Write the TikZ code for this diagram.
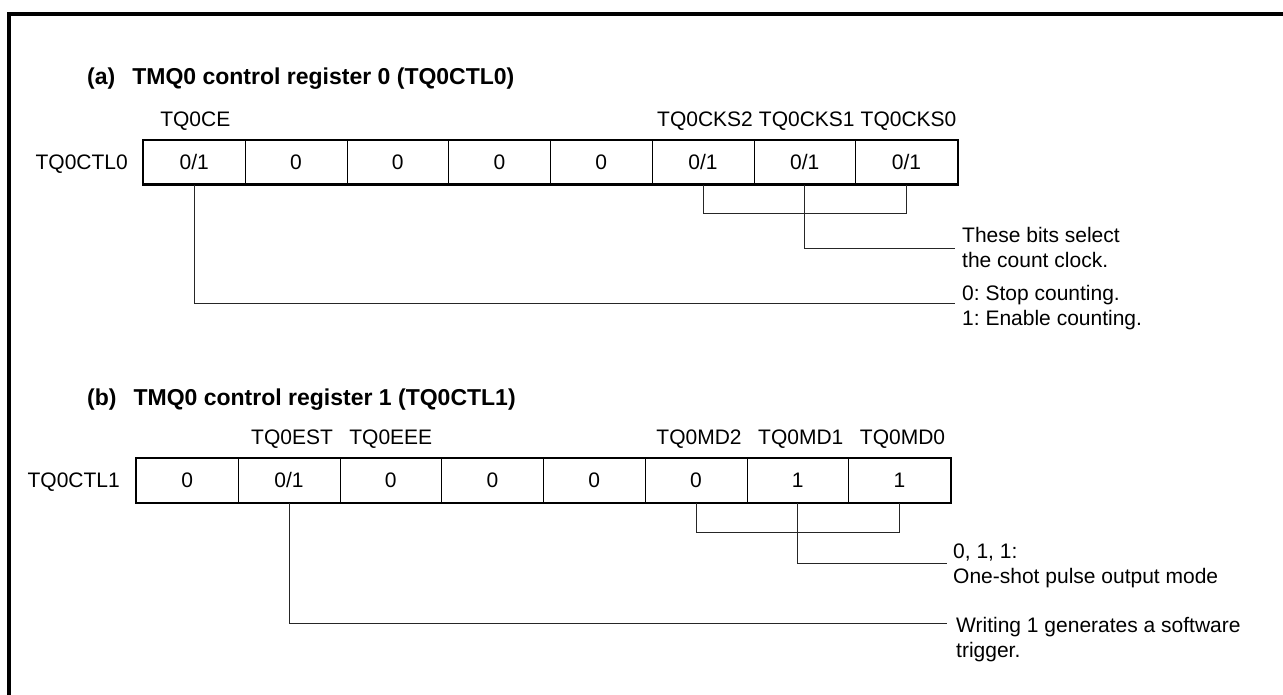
\documentclass[tikz,border=0pt]{standalone}
\usepackage{fontspec}
\setmainfont{Liberation Sans}
\frenchspacing
\begin{document}
\begin{tikzpicture}[x=1pt,y=-1pt,
  cell/.style={draw, line width=0.8pt, minimum width=101.75pt, minimum height=44pt,
    inner sep=0pt, text height=15pt, text depth=0pt, font=\fontsize{21}{25}\selectfont},
  lbl/.style={font=\fontsize{21}{25}\selectfont, inner sep=0pt, anchor=base},
  note/.style={font=\fontsize{21}{25}\selectfont, inner sep=0pt, anchor=base west},
  ttl/.style={font=\fontsize{23}{28}\selectfont\bfseries, inner sep=0pt, anchor=base west},
  wire/.style={line width=1pt, draw=black!85},
  regframe/.style={line width=2.6pt, line join=miter}]
\useasboundingbox (0,0) rectangle (1283,695);
\draw[line width=3.6pt, line join=miter] (9,700) -- (9,14) -- (1290,14);

% ---------------- (a) ----------------
\node[ttl] (ta) at (87,85) {(a)\hskip 17pt TMQ0 control register 0 (TQ0CTL0)};
\foreach \v [count=\i] in {0/1,0,0,0,0,0/1,0/1,0/1}
  \node[cell, anchor=north west] (a\i) at ({143+(\i-1)*101.75},140) {\v};
\draw[regframe] (a1.north west) rectangle (a8.south east);
\node[lbl, anchor=base east] (ra) at ([xshift=-15pt,yshift=-7.5pt]a1.west) {TQ0CTL0};
\node[lbl] (la1) at ([xshift=1pt,yshift=13.5pt]a1.north) {TQ0CE};
\node[lbl] (la6) at ([xshift=2pt,yshift=13.5pt]a6.north) {TQ0CKS2};
\node[lbl] (la7) at ([xshift=2pt,yshift=13.5pt]a7.north) {TQ0CKS1};
\node[lbl] (la8) at ([xshift=2pt,yshift=13.5pt]a8.north) {TQ0CKS0};

\coordinate (ca1) at (955,249);
\coordinate (ca2) at (955,303);
\draw[wire] (a6.south) -- ++(0,29) -| (a8.south);
\draw[wire] (a7.south) |- (ca1);
\draw[wire] (a1.south) |- (ca2);
\node[note] (na1) at (962,243) {These bits select};
\node[note] (na2) at (962,268) {the count clock.};
\node[note] (na3) at (962,300) {0: Stop counting.};
\node[note] (na4) at (962,325) {1: Enable counting.};

% ---------------- (b) ----------------
\node[ttl] (tb) at (87,405) {(b)\hskip 17pt TMQ0 control register 1 (TQ0CTL1)};
\foreach \v [count=\i] in {0,0/1,0,0,0,0,1,1}
  \node[cell, anchor=north west] (b\i) at ({136+(\i-1)*101.75},458) {\v};
\draw[regframe] (b1.north west) rectangle (b8.south east);
\node[lbl, anchor=base east] (rb) at ([xshift=-16pt,yshift=-7.5pt]b1.west) {TQ0CTL1};
\node[lbl] (lb2) at ([xshift=3pt,yshift=13.5pt]b2.north) {TQ0EST};
\node[lbl] (lb3) at ([xshift=0pt,yshift=13.5pt]b3.north) {TQ0EEE};
\node[lbl] (lb6) at ([xshift=3pt,yshift=13.5pt]b6.north) {TQ0MD2};
\node[lbl] (lb7) at ([xshift=3pt,yshift=13.5pt]b7.north) {TQ0MD1};
\node[lbl] (lb8) at ([xshift=3pt,yshift=13.5pt]b8.north) {TQ0MD0};

\coordinate (cb1) at (947,563);
\coordinate (cb2) at (947,623);
\draw[wire] (b6.south) -- ++(0,30) -| (b8.south);
\draw[wire] (b7.south) |- (cb1);
\draw[wire] (b2.south) |- (cb2);
\node[note] (nb1) at (953,558) {0, 1, 1:};
\node[note] (nb2) at (953,583) {One-shot pulse output mode};
\node[note] (nb3) at (956,632) {Writing 1 generates a software};
\node[note] (nb4) at (956,657) {trigger.};
\end{tikzpicture}
\end{document}
